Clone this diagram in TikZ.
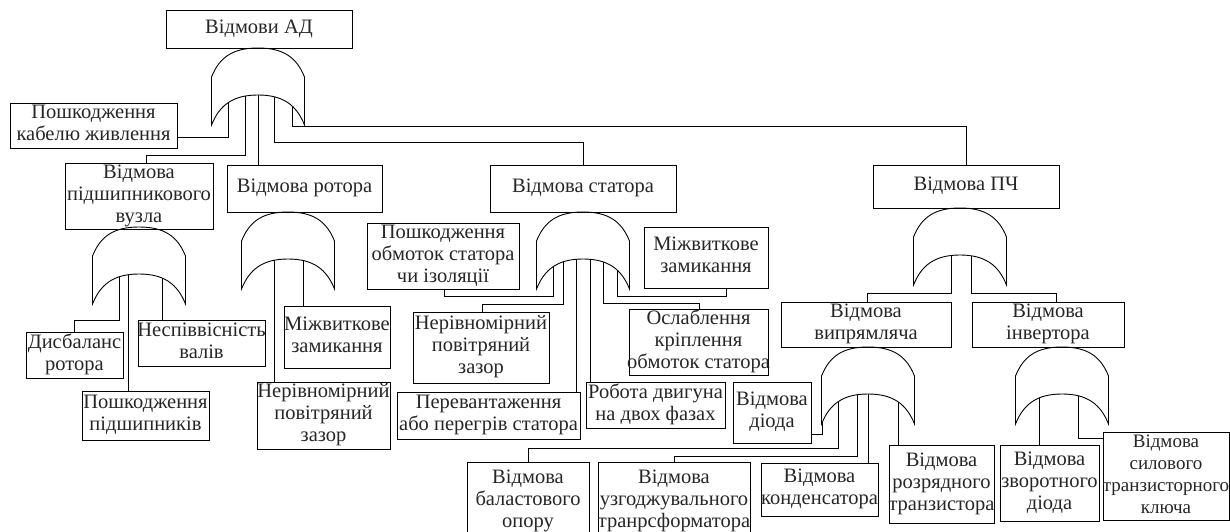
\documentclass[tikz,border=0pt]{standalone}
\usepackage{fontspec}
\setmainfont{Liberation Serif}
\newfontfamily\diagfont{Liberation Serif}
\usetikzlibrary{backgrounds}
\newcommand\orgate[3]{% name, centre x, apex y
  \coordinate (#1) at (#2,#3);
  \draw[gate] ({#2-46.5},{#3+29}) .. controls ({#2-38.5},{#3+9}) and ({#2-25},{#3}) .. (#2,#3)
    .. controls ({#2+25},{#3}) and ({#2+38.5},{#3+9}) .. ({#2+46.5},{#3+29})
    -- ({#2+46.5},{#3+77})
    .. controls ({#2+38.5},{#3+57}) and ({#2+25},{#3+47}) .. (#2,{#3+47})
    .. controls ({#2-25},{#3+47}) and ({#2-38.5},{#3+57}) .. ({#2-46.5},{#3+77}) -- cycle;}
\newcommand\bx[6]{% name, x1, y1, x2, y2, text
  \pgfmathsetmacro\myboxw{#4-#2}\pgfmathsetmacro\myboxh{#5-#3}%
  \node[box,minimum width=\myboxw pt,minimum height=\myboxh pt] (#1) at ({(#2+#4)/2},{(#3+#5)/2})
    {\makebox[0pt]{\begin{tabular}{@{}c@{}}#6\end{tabular}}};}
\begin{document}
\begin{tikzpicture}[x=1pt,y=-1pt,
  box/.style={draw,line width=0.9pt,inner sep=0pt,font=\diagfont\fontsize{20.5}{22}\selectfont,text=black!85},
  wire/.style={line width=0.9pt},
  gate/.style={draw,fill=white,line width=0.9pt}]
\useasboundingbox (0,0) rectangle (1230,532);
% boxes
\bx{top}{166}{10}{352}{48}{Відмови АД}
\bx{cable}{10}{103}{177}{148}{Пошкодження\\кабелю живлення}
\bx{bearing}{65}{165}{213}{227}{Відмова\\підшипникового\\вузла}
\bx{rotor}{227}{165}{382}{212}{Відмова ротора}
\bx{stator}{490}{165}{676}{212}{Відмова статора}
\bx{pch}{873}{165}{1059}{208}{Відмова ПЧ}
\bx{disb}{26}{332}{123}{378}{Дисбаланс\\ротора}
\bx{bdmg}{82}{391}{209}{440}{Пошкодження\\підшипників}
\bx{nesp}{138}{320}{265}{366}{Неспіввісність\\валів}
\bx{rgap}{257}{382}{390}{449}{Нерівномірний\\повітряний\\зазор}
\bx{rmizh}{284}{306}{390}{368}{Міжвиткове\\замикання}
\bx{winding}{367}{224}{519}{289}{Пошкодження\\обмоток статора\\чи ізоляції}
\bx{sgap}{413}{312}{549}{383}{Нерівномірний\\повітряний\\зазор}
\bx{overload}{397}{392}{580}{439}{Перевантаження\\або перегрів статора}
\bx{twophase}{586}{382}{725}{428}{Робота двигуна\\на двох фазах}
\bx{loosen}{629}{312}{768}{373}{Ослаблення\\кріплення\\обмоток статора}
\bx{smizh}{644}{227}{768}{288}{Міжвиткове\\замикання}
\bx{rect}{781}{302}{951}{347}{Відмова\\випрямляча}
\bx{inv}{972}{302}{1124}{347}{Відмова\\інвертора}
\bx{diode}{733}{382}{811}{443}{Відмова\\діода}
\bx{ballast}{467}{462}{589}{540}{Відмова\\баластового\\опору}
\bx{match}{598}{462}{750}{540}{Відмова\\узгоджувального\\транрсформатора}
\bx{cap}{761}{463}{878}{516}{Відмова\\конденсатора}
\bx{disch}{889}{445}{994}{523}{Відмова\\розрядного\\транзистора}
\bx{revd}{1000}{445}{1099}{521}{Відмова\\зворотного\\діода}
\bx{switch}{1103}{432}{1229}{520}{\fontsize{19}{22}\selectfont Відмова\\\fontsize{19}{22}\selectfont силового\\\fontsize{19}{22}\selectfont транзисторного\\\fontsize{19}{22}\selectfont ключа}
% gate input points
\coordinate (g1a) at (228,82); \coordinate (g1b) at (245,82); \coordinate (g1c) at (258,82);
\coordinate (g1d) at (274,82); \coordinate (g1e) at (292,82);
\coordinate (g2a) at (119,260); \coordinate (g2b) at (128,260); \coordinate (g2c) at (162,260);
\coordinate (g3a) at (274,245); \coordinate (g3b) at (303,245);
\coordinate (g4a) at (553,245); \coordinate (g4b) at (563,245); \coordinate (g4c) at (576,245);
\coordinate (g4d) at (590,245); \coordinate (g4e) at (603,245); \coordinate (g4f) at (617,245);
\coordinate (g5a) at (951,241); \coordinate (g5b) at (971,241);
\coordinate (g6a) at (822,380); \coordinate (g6b) at (838,380); \coordinate (g6c) at (857,380);
\coordinate (g6d) at (868,380); \coordinate (g6e) at (898,380);
\coordinate (g7a) at (1039,380); \coordinate (g7b) at (1078,380);
\begin{scope}[on background layer]
% connectors
\draw[wire] (g1a) |- (cable.east |- 0,137);
\draw[wire] (g1b) |- (146,155) -- (bearing.north -| 146,0);
\draw[wire] (g1c) -- (g1c |- rotor.north);
\draw[wire] (g1d) |- (583,142) -- (stator.north);
\draw[wire] (g1e) |- (966,126) -- (pch.north);
\draw[wire] (g2a) |- (74,320) -- (disb.north -| 74,0);
\draw[wire] (g2b) -- (g2b |- bdmg.north);
\draw[wire] (g2c) -- (g2c |- nesp.north);
\draw[wire] (g3a) -- (g3a |- rgap.north);
\draw[wire] (g3b) -- (g3b |- rmizh.north);
\draw[wire] (g4a) |- (444,296) -- (winding.south -| 444,0);
\draw[wire] (g4b) |- (482,304) -- (sgap.north -| 482,0);
\draw[wire] (g4c) -- (g4c |- overload.north);
\draw[wire] (g4d) -- (g4d |- twophase.north);
\draw[wire] (g4e) |- (699,303) -- (loosen.north -| 699,0);
\draw[wire] (g4f) |- (726,296) -- (smizh.south -| 726,0);
\draw[wire] (g5a) |- (867,293) -- (rect.north -| 867,0);
\draw[wire] (g5b) |- (1056,293) -- (inv.north -| 1056,0);
\draw[wire] (g6a) |- (diode.east |- 0,434);
\draw[wire] (g6b) |- (528,448) -- (ballast.north -| 528,0);
\draw[wire] (g6c) |- (674,456) -- (match.north -| 674,0);
\draw[wire] (g6d) -- (g6d |- cap.north);
\draw[wire] (g6e) -- (g6e |- disch.north);
\draw[wire] (g7a) -- (g7a |- revd.north);
\draw[wire] (g7b) |- (switch.west |- 0,438);
% gates
\orgate{G1}{258}{48}
\orgate{G2}{139}{227}
\orgate{G3}{288}{212}
\orgate{G4}{583}{212}
\orgate{G5}{960}{208}
\orgate{G6}{868}{347}
\orgate{G7}{1062}{347}
\end{scope}
\end{tikzpicture}
\end{document}
